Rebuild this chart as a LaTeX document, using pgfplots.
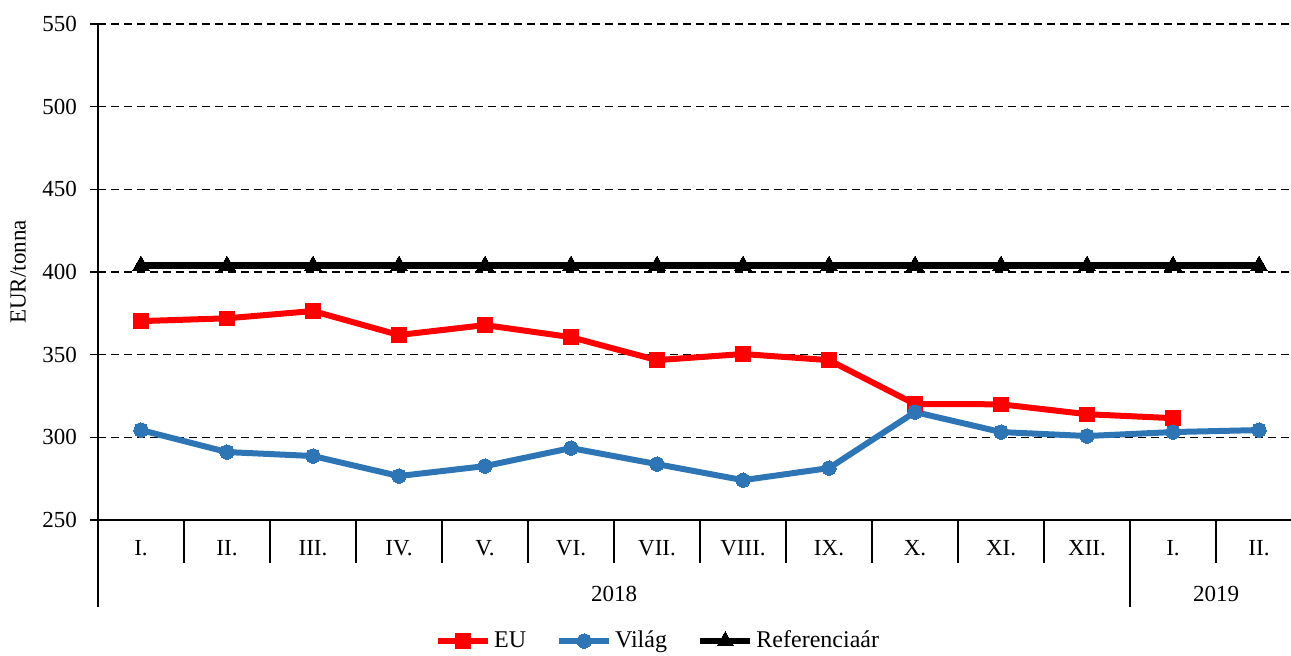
\documentclass[border=0pt]{standalone}
\usepackage{fontspec}
\setmainfont{Liberation Serif}
\usepackage{pgfplots}
\pgfplotsset{compat=1.18}
\definecolor{eured}{RGB}{255,0,0}
\definecolor{vilblue}{RGB}{46,117,182}
\newcommand\chf{\fontsize{11.5}{13.8}\selectfont}
\newcommand\lgf{\fontsize{12}{14.4}\selectfont}
\begin{document}
\begin{tikzpicture}
\path[use as bounding box] (0,0) rectangle (645.5pt,-327.5pt);
\begin{axis}[
  at={(49pt,-260pt)}, anchor=south west,
  scale only axis, width=596.5pt, height=248pt,
  xmin=-0.5, xmax=13.372, ymin=250, ymax=550,
  axis x line=bottom, axis y line=left,
  axis line style={-, line width=0.8pt},
  /pgf/number format/assume math mode=true,
  ytick={250,300,...,550},
  xtick={0,...,13},
  xticklabels={I.,II.,III.,IV.,V.,VI.,VII.,VIII.,IX.,X.,XI.,XII.,I.,II.},
  major x tick style={draw=none},
  y tick style={line width=0.8pt, black},
  tick align=outside, major tick length=4pt,
  ymajorgrids,
  grid style={black, line width=0.7pt, dash pattern=on 4pt off 2.5pt},
  yticklabel style={font=\chf, anchor=east, xshift=-3pt},
  xticklabel style={font=\chf, anchor=base, yshift=-13.5pt},
  ylabel={EUR/tonna},
  ylabel style={font=\chf, at={(axis description cs:-0.067,0.5)}, anchor=center},
  clip=false,
  legend style={at={(0.4695,-0.244)}, anchor=center, draw=none, fill=none,
    legend columns=-1, font=\lgf, nodes={inner xsep=1pt},
    /tikz/every odd column/.append style={column sep=0.5pt},
    /tikz/every even column/.append style={column sep=14pt}},
  legend image code/.code={\draw[mark repeat=2,mark phase=2,#1] plot coordinates {(0pt,0pt)(12.5pt,0pt)(25pt,0pt)};},
]
\addplot[eured, line width=3pt, mark=square*, mark size=3.6pt, mark options={line width=0pt}] coordinates {
(0,370.3) (1,372) (2,376.4) (3,361.9) (4,367.9) (5,360.6) (6,346.7) (7,350.4) (8,346.7) (9,320.1) (10,320) (11,314) (12,311.6)};
\addlegendentry{EU}
\addplot[vilblue, line width=3pt, mark=*, mark size=3.6pt, mark options={line width=0pt}] coordinates {
(0,304.4) (1,291.1) (2,288.7) (3,276.6) (4,282.6) (5,293.5) (6,283.8) (7,274.1) (8,281.4) (9,315.3) (10,303.2) (11,300.8) (12,303.2) (13,304.4)};
\addlegendentry{Világ}
\addplot[black, line width=3.2pt, mark=triangle*, mark size=4.7pt, mark options={line width=0pt}] coordinates {
(0,404) (1,404) (2,404) (3,404) (4,404) (5,404) (6,404) (7,404) (8,404) (9,404) (10,404) (11,404) (12,404) (13,404)};
\addlegendentry{Referenciaár}
\draw[line width=0.8pt] (axis cs:-0.5,250) -- ([yshift=-43.5pt]axis cs:-0.5,250);
\draw[line width=0.8pt] (axis cs:11.5,250) -- ([yshift=-43.5pt]axis cs:11.5,250);
\pgfplotsinvokeforeach{0.5,1.5,2.5,3.5,4.5,5.5,6.5,7.5,8.5,9.5,10.5,12.5}{
  \draw[line width=0.8pt] (axis cs:#1,250) -- ([yshift=-21.5pt]axis cs:#1,250);
}
\node[font=\chf, anchor=base, yshift=-40.5pt] at (axis cs:5.5,250) {2018};
\node[font=\chf, anchor=base, yshift=-40.5pt] at (axis cs:12.5,250) {2019};
\end{axis}
\end{tikzpicture}
\end{document}
